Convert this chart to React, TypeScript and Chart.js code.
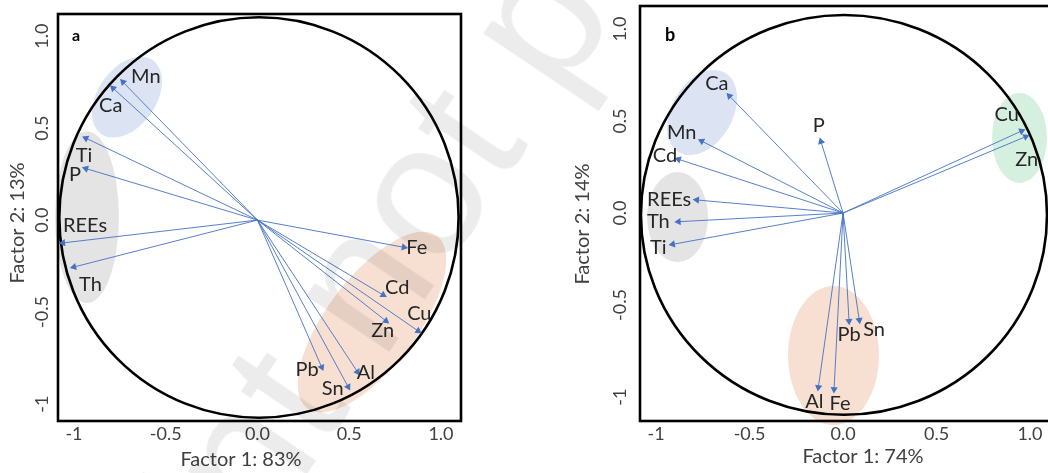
import React, { useEffect, useRef } from "react";
import { Chart, registerables } from "chart.js";

Chart.register(...registerables);

// ---------- data ----------
const AXIS_TICKS = [-1, -0.5, 0, 0.5, 1];
const AXIS_TICK_LABELS = ["-1", "-0.5", "0.0", "0.5", "1.0"];

// Panel a: loadings (Factor 1: 83%, Factor 2: 13%)
const A_NAMES = ["Mn", "Ca", "Ti", "P", "REEs", "Th", "Fe", "Cd", "Zn", "Cu", "Pb", "Al", "Sn"];
const A_FACTOR1 = [-0.733, -0.787, -0.935, -0.935, -1.06, -1.0, 0.798, 0.685, 0.7, 0.876, 0.35, 0.545, 0.494];
const A_FACTOR2 = [0.75, 0.717, 0.445, 0.28, -0.124, -0.255, -0.148, -0.407, -0.548, -0.603, -0.8, -0.825, -0.906];

// Panel b: loadings (Factor 1: 74%, Factor 2: 14%)
const B_NAMES = ["Ca", "P", "Mn", "Cd", "REEs", "Th", "Ti", "Cu", "Zn", "Pb", "Sn", "Al", "Fe"];
const B_FACTOR1 = [-0.608, -0.118, -0.756, -0.88, -0.782, -0.88, -0.911, 0.955, 0.977, 0.032, 0.087, -0.132, -0.048];
const B_FACTOR2 = [0.636, 0.388, 0.391, 0.292, 0.071, -0.047, -0.17, 0.446, 0.415, -0.587, -0.582, -0.947, -0.958];

const A_TITLES = { x: "Factor 1: 83%", y: "Factor 2: 13%", panel: "a" };
const B_TITLES = { x: "Factor 1: 74%", y: "Factor 2: 14%", panel: "b" };

// ---------- layout / style ----------
const FONT = "Lato, 'Open Sans', sans-serif";
const ARROW = "#4472c4";
const TEXT = "#262626";
const AXIS_TEXT = "#404040";

const A_LABEL_POS = [
  [-0.608, 0.78], [-0.8, 0.62], [-0.945, 0.353], [-0.995, 0.25], [-0.94, -0.03], [-0.91, -0.353],
  [0.868, -0.152], [0.762, -0.366], [0.682, -0.598], [0.882, -0.507], [0.27, -0.81], [0.59, -0.83], [0.41, -0.915],
];
const B_LABEL_POS = [
  [-0.675, 0.705], [-0.13, 0.474], [-0.863, 0.436], [-0.952, 0.31], [-0.93, 0.074], [-0.988, -0.047], [-0.988, -0.19],
  [0.875, 0.536], [0.982, 0.292], [0.032, -0.66], [0.166, -0.632], [-0.153, -1.025], [-0.016, -1.034],
];

const BLUE_FILL = "#dce4f3";
const GREY_FILL = "#e4e4e4";
const ORANGE_FILL = "#f7e0d2";
const GREEN_FILL = "#d6f0e0";

const A_LAYOUT = {
  x: [-1.087, 1.109],
  y: [-1.092, 1.12],
  padding: { left: 0, top: 14, right: 69, bottom: 0 },
  yAxisWidth: 58,
  xAxisHeight: 52,
  yTickOffset: 16,
  xTitle: [241, 460],
  yTitle: [18, 223],
  panelPos: [76, 36],
  panelSize: 16,
  circle: { cx: 0.008, cy: 0.014, r: 1.088 },
  ellipses: [
    { cx: -0.711, cy: 0.668, rx: 0.245, ry: 0.158, angle: 55, color: BLUE_FILL },
    { cx: -0.929, cy: 0.016, rx: 0.174, ry: 0.467, angle: 0, color: GREY_FILL },
    { cx: 0.624, cy: -0.554, rx: 0.588, ry: 0.245, angle: 53, color: ORANGE_FILL },
  ],
};

const B_LAYOUT = {
  x: [-1.086, 1.107],
  y: [-1.13, 1.125],
  padding: { left: 0, top: 6, right: 10, bottom: 0 },
  yAxisWidth: 110,
  xAxisHeight: 52,
  yTickOffset: 20,
  xTitle: [333, 457],
  yTitle: [53, 224],
  panelPos: [140, 35],
  panelSize: 18,
  circle: { cx: 0.005, cy: -0.01, r: 1.086 },
  ellipses: [
    { cx: -0.754, cy: 0.546, rx: 0.246, ry: 0.166, angle: 60, color: BLUE_FILL },
    { cx: -0.885, cy: -0.022, rx: 0.163, ry: 0.245, angle: 0, color: GREY_FILL },
    { cx: -0.051, cy: -0.774, rx: 0.243, ry: 0.378, angle: 0, color: ORANGE_FILL },
    { cx: 0.944, cy: 0.408, rx: 0.147, ry: 0.245, angle: 0, color: GREEN_FILL },
  ],
};

function makeOverlay(layout: any, titles: any, names: string[], labelPos: number[][]) {
  return {
    id: "pcaOverlay",
    beforeDatasetsDraw(chart: any) {
      const { ctx, scales } = chart;
      const x = scales.x, y = scales.y;
      const ux = x.getPixelForValue(1) - x.getPixelForValue(0);
      const uy = y.getPixelForValue(0) - y.getPixelForValue(1);
      ctx.save();
      layout.ellipses.forEach((e: any) => {
        ctx.beginPath();
        ctx.ellipse(x.getPixelForValue(e.cx), y.getPixelForValue(e.cy), e.rx * ux, e.ry * uy, (-e.angle * Math.PI) / 180, 0, Math.PI * 2);
        ctx.fillStyle = e.color;
        ctx.fill();
      });
      const c = layout.circle;
      ctx.beginPath();
      ctx.ellipse(x.getPixelForValue(c.cx), y.getPixelForValue(c.cy), c.r * ux, c.r * uy, 0, 0, Math.PI * 2);
      ctx.lineWidth = 2.6;
      ctx.strokeStyle = "#000";
      ctx.stroke();
      ctx.restore();
    },
    afterDatasetsDraw(chart: any) {
      const { ctx, scales } = chart;
      ctx.save();
      ctx.font = `20px ${FONT}`;
      ctx.fillStyle = TEXT;
      ctx.textAlign = "center";
      ctx.textBaseline = "middle";
      names.forEach((n, i) => {
        ctx.fillText(n, scales.x.getPixelForValue(labelPos[i][0]), scales.y.getPixelForValue(labelPos[i][1]));
      });
      ctx.restore();
    },
    afterDraw(chart: any) {
      const { ctx, chartArea, scales } = chart;
      ctx.save();
      ctx.lineWidth = 2.6;
      ctx.strokeStyle = "#000";
      ctx.strokeRect(chartArea.left, chartArea.top, chartArea.right - chartArea.left, chartArea.bottom - chartArea.top);
      // y tick labels (rotated)
      ctx.font = `18px ${FONT}`;
      ctx.fillStyle = AXIS_TEXT;
      ctx.textAlign = "center";
      ctx.textBaseline = "middle";
      AXIS_TICKS.forEach((v, i) => {
        ctx.save();
        ctx.translate(chartArea.left - layout.yTickOffset, scales.y.getPixelForValue(v));
        ctx.rotate(-Math.PI / 2);
        ctx.fillText(AXIS_TICK_LABELS[i], 0, 0);
        ctx.restore();
      });
      // axis titles
      ctx.font = `20px ${FONT}`;
      ctx.fillText(titles.x, layout.xTitle[0], layout.xTitle[1]);
      ctx.save();
      ctx.translate(layout.yTitle[0], layout.yTitle[1]);
      ctx.rotate(-Math.PI / 2);
      ctx.fillText(titles.y, 0, 0);
      ctx.restore();
      // panel letter
      ctx.font = `bold ${layout.panelSize}px ${FONT}`;
      ctx.fillStyle = "#000";
      ctx.fillText(titles.panel, layout.panelPos[0], layout.panelPos[1]);
      ctx.restore();
    },
  };
}

function buildConfig(names: string[], f1: number[], f2: number[], layout: any, titles: any, labelPos: number[][]) {
  const datasets = names.map((n, i) => ({
    label: n,
    data: [
      { x: 0, y: 0 },
      { x: f1[i], y: f2[i] },
    ],
    showLine: true,
    borderColor: ARROW,
    borderWidth: 0.9,
    pointRadius: [0, 4.2],
    pointHoverRadius: [0, 4.2],
    pointStyle: "triangle",
    pointRotation: [0, (Math.atan2(f1[i], f2[i]) * 180) / Math.PI],
    pointBackgroundColor: ARROW,
    pointBorderColor: ARROW,
    pointBorderWidth: 0,
  }));
  return {
    type: "scatter",
    data: { datasets },
    options: {
      animation: false,
      responsive: false,
      events: [],
      layout: { padding: layout.padding },
      plugins: { legend: { display: false }, tooltip: { enabled: false } },
      scales: {
        x: {
          type: "linear",
          min: layout.x[0],
          max: layout.x[1],
          grid: { display: false, drawTicks: false },
          border: { display: false },
          afterBuildTicks: (s: any) => {
            s.ticks = AXIS_TICKS.map((v) => ({ value: v }));
          },
          afterFit: (s: any) => {
            s.height = layout.xAxisHeight;
          },
          ticks: {
            autoSkip: false,
            maxRotation: 0,
            padding: 2,
            color: AXIS_TEXT,
            font: { family: FONT, size: 18 },
            callback: (v: number) => {
              const i = AXIS_TICKS.indexOf(v);
              return i >= 0 ? AXIS_TICK_LABELS[i] : "";
            },
          },
        },
        y: {
          type: "linear",
          min: layout.y[0],
          max: layout.y[1],
          grid: { display: false, drawTicks: false },
          border: { display: false },
          ticks: { display: false },
          afterFit: (s: any) => {
            s.width = layout.yAxisWidth;
          },
        },
      },
    },
    plugins: [makeOverlay(layout, titles, names, labelPos)],
  };
}

function Panel(props: any) {
  const ref = useRef<HTMLCanvasElement>(null);
  useEffect(() => {
    const chart = new Chart(ref.current as any, buildConfig(props.names, props.f1, props.f2, props.layout, props.titles, props.labelPos) as any);
    return () => chart.destroy();
  }, []);
  return (
    <canvas
      ref={ref}
      width={530}
      height={473}
      style={{ position: "absolute", left: props.left, top: 0, width: 530, height: 473 }}
    />
  );
}

export default function App() {
  return (
    <div
      style={{
        position: "fixed",
        left: 0,
        top: 0,
        width: 1048,
        height: 473,
        overflow: "hidden",
        background: "#fff",
      }}
    >
      <Panel left={0} names={A_NAMES} f1={A_FACTOR1} f2={A_FACTOR2} layout={A_LAYOUT} titles={A_TITLES} labelPos={A_LABEL_POS} />
      <Panel left={530} names={B_NAMES} f1={B_FACTOR1} f2={B_FACTOR2} layout={B_LAYOUT} titles={B_TITLES} labelPos={B_LABEL_POS} />
      <div
        style={{
          position: "absolute",
          left: -153,
          top: 868,
          fontFamily: "'Liberation Sans', Arial, sans-serif",
          fontSize: 190,
          lineHeight: 1,
          whiteSpace: "nowrap",
          color: "rgba(0,0,0,0.075)",
          transform: "rotate(-56deg)",
          transformOrigin: "0 0",
          pointerEvents: "none",
        }}
      >
        Preprint not peer reviewed
      </div>
    </div>
  );
}
